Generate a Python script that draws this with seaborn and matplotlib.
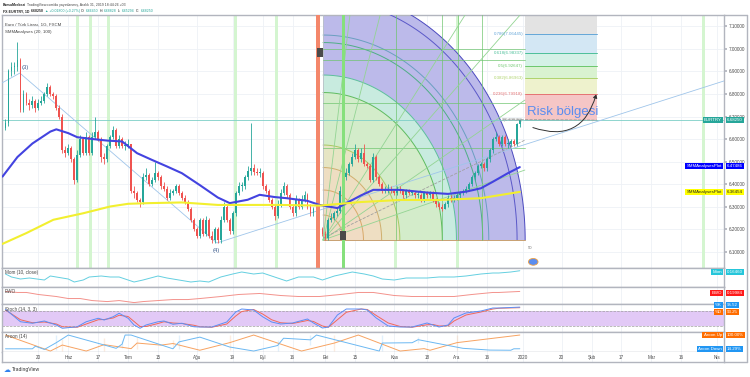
import numpy as np
import pandas as pd
import matplotlib
matplotlib.use("Agg")
import matplotlib.pyplot as plt
import seaborn as sns
from matplotlib.patches import Polygon, FancyArrowPatch, Rectangle, Ellipse

# EURTRY daily candles, 3 May 2019 .. 31 Dec 2019 (opens = previous close)
first_open = 6.65
closes = [6.67, 6.90, 6.92, 6.92, 6.95, 6.73, 6.80, 6.76, 6.75, 6.77,
          6.74, 6.76, 6.77, 6.80, 6.83, 6.80, 6.79, 6.74, 6.70, 6.55,
          6.54, 6.56, 6.51, 6.42, 6.53, 6.60, 6.54, 6.61, 6.54, 6.61,
          6.63, 6.60, 6.52, 6.51, 6.57, 6.61, 6.64, 6.57, 6.60, 6.57,
          6.57, 6.58, 6.37, 6.36, 6.33, 6.32, 6.43, 6.44, 6.40, 6.42,
          6.45, 6.43, 6.39, 6.38, 6.34, 6.36, 6.37, 6.39, 6.36, 6.34,
          6.32, 6.29, 6.24, 6.20, 6.17, 6.24, 6.18, 6.24, 6.17, 6.15,
          6.20, 6.15, 6.24, 6.30, 6.24, 6.19, 6.27, 6.36, 6.39, 6.39,
          6.43, 6.46, 6.47, 6.455, 6.45, 6.45, 6.39, 6.37, 6.33, 6.30,
          6.26, 6.31, 6.36, 6.39, 6.35, 6.30, 6.27, 6.33, 6.30, 6.33,
          6.35, 6.30, 6.27, 6.29, 6.24, 6.20, 6.18, 6.16, 6.24, 6.25,
          6.27, 6.28, 6.37, 6.43, 6.45, 6.49, 6.52, 6.55, 6.51, 6.54,
          6.49, 6.48, 6.42, 6.52, 6.43, 6.40, 6.37, 6.37, 6.38, 6.37,
          6.36, 6.38, 6.37, 6.35, 6.37, 6.36, 6.36, 6.35, 6.35, 6.33,
          6.36, 6.35, 6.36, 6.33, 6.31, 6.30, 6.29, 6.31, 6.34, 6.33,
          6.34, 6.35, 6.36, 6.37, 6.38, 6.40, 6.43, 6.45, 6.48, 6.49,
          6.47, 6.51, 6.55, 6.60, 6.61, 6.58, 6.61, 6.58, 6.58, 6.59,
          6.58, 6.6645, 6.6825]
highs = [6.69, 6.91, 6.94, 6.94, 7.03, 6.96, 6.82, 6.81, 6.78, 6.79,
         6.78, 6.78, 6.79, 6.81, 6.85, 6.84, 6.81, 6.80, 6.75, 6.71,
         6.57, 6.58, 6.57, 6.52, 6.55, 6.62, 6.61, 6.63, 6.62, 6.63,
         6.70, 6.64, 6.61, 6.54, 6.58, 6.62, 6.66, 6.65, 6.62, 6.61,
         6.59, 6.60, 6.58, 6.39, 6.37, 6.34, 6.45, 6.47, 6.45, 6.43,
         6.50, 6.46, 6.44, 6.41, 6.39, 6.38, 6.38, 6.40, 6.40, 6.37,
         6.35, 6.33, 6.30, 6.25, 6.21, 6.25, 6.25, 6.26, 6.25, 6.19,
         6.21, 6.21, 6.26, 6.32, 6.31, 6.25, 6.28, 6.37, 6.41, 6.41,
         6.44, 6.48, 6.67, 6.49, 6.47, 6.47, 6.46, 6.40, 6.38, 6.34,
         6.31, 6.33, 6.38, 6.41, 6.40, 6.36, 6.31, 6.35, 6.34, 6.35,
         6.37, 6.36, 6.31, 6.30, 6.30, 6.25, 6.21, 6.19, 6.25, 6.27,
         6.28, 6.30, 6.39, 6.45, 6.47, 6.50, 6.54, 6.58, 6.56, 6.56,
         6.58, 6.50, 6.49, 6.54, 6.53, 6.44, 6.41, 6.39, 6.40, 6.39,
         6.38, 6.39, 6.39, 6.38, 6.38, 6.38, 6.37, 6.37, 6.37, 6.36,
         6.37, 6.37, 6.37, 6.37, 6.34, 6.32, 6.31, 6.32, 6.35, 6.35,
         6.35, 6.36, 6.37, 6.38, 6.39, 6.41, 6.44, 6.46, 6.49, 6.50,
         6.50, 6.52, 6.56, 6.61, 6.63, 6.62, 6.62, 6.62, 6.60, 6.60,
         6.60, 6.67, 6.688]
lows = [6.64, 6.66, 6.88, 6.89, 6.90, 6.72, 6.72, 6.75, 6.73, 6.74,
        6.72, 6.73, 6.75, 6.76, 6.79, 6.79, 6.78, 6.73, 6.69, 6.54,
        6.52, 6.53, 6.50, 6.40, 6.41, 6.52, 6.53, 6.53, 6.53, 6.53,
        6.60, 6.59, 6.50, 6.49, 6.50, 6.56, 6.60, 6.56, 6.56, 6.56,
        6.55, 6.56, 6.36, 6.34, 6.32, 6.30, 6.31, 6.42, 6.39, 6.39,
        6.41, 6.42, 6.38, 6.37, 6.33, 6.33, 6.35, 6.36, 6.35, 6.33,
        6.31, 6.28, 6.23, 6.19, 6.16, 6.16, 6.17, 6.17, 6.16, 6.14,
        6.14, 6.14, 6.14, 6.23, 6.23, 6.18, 6.18, 6.26, 6.35, 6.37,
        6.38, 6.42, 6.44, 6.44, 6.44, 6.43, 6.38, 6.36, 6.32, 6.29,
        6.24, 6.25, 6.30, 6.35, 6.34, 6.29, 6.26, 6.26, 6.29, 6.29,
        6.32, 6.29, 6.26, 6.26, 6.23, 6.19, 6.17, 6.15, 6.15, 6.23,
        6.24, 6.26, 6.27, 6.36, 6.42, 6.44, 6.48, 6.51, 6.50, 6.50,
        6.48, 6.47, 6.41, 6.41, 6.42, 6.39, 6.36, 6.36, 6.36, 6.36,
        6.35, 6.35, 6.36, 6.34, 6.34, 6.35, 6.35, 6.34, 6.34, 6.32,
        6.32, 6.34, 6.34, 6.32, 6.30, 6.29, 6.28, 6.29, 6.30, 6.32,
        6.32, 6.33, 6.34, 6.35, 6.36, 6.37, 6.39, 6.42, 6.44, 6.47,
        6.46, 6.46, 6.50, 6.54, 6.59, 6.57, 6.57, 6.57, 6.56, 6.57,
        6.57, 6.57, 6.653]

# SMMAnalyses (20, 100) lines, bar index / value
sma20_x = [-1, 4, 9, 15, 17, 21, 24, 29, 34, 39, 44, 49, 54, 59, 65, 71, 75, 81, 85, 90,
           94, 101, 105, 111, 114, 119, 123, 132, 141, 148, 154, 159, 163, 168, 172]
sma20_y = [6.433, 6.52, 6.58, 6.633, 6.643, 6.626, 6.608, 6.60, 6.593, 6.589, 6.537, 6.507,
           6.478, 6.448, 6.395, 6.34, 6.315, 6.33, 6.352, 6.342, 6.337, 6.325, 6.307, 6.293,
           6.315, 6.35, 6.374, 6.374, 6.362, 6.356, 6.366, 6.381, 6.41, 6.448, 6.475]
sma100_x = [-1, 7, 16, 26, 35, 41, 48, 59, 71, 82, 92, 105, 119, 132, 145, 159, 172]
sma100_y = [6.134, 6.182, 6.241, 6.27, 6.30, 6.312, 6.315, 6.318, 6.307, 6.307, 6.307,
            6.304, 6.32, 6.329, 6.329, 6.337, 6.365]

# Mom (10, close)
mom_x = [0, 2, 5, 8, 13, 15, 21, 23, 26, 28, 32, 35, 38, 43, 46, 51, 54, 58, 62, 65, 68, 72, 76, 79,
         83, 86, 89, 94, 98, 103, 106, 110, 113, 116, 120, 123, 126, 130, 134, 141, 145, 150, 154,
         159, 163, 165, 169, 172]
mom_y = [0.10, 0.04, 0.00, 0.02, -0.02, 0.06, 0.00, -0.06, -0.02, 0.04, 0.06, 0.04, 0.04, -0.06,
         -0.02, 0.06, 0.02, -0.02, -0.06, -0.04, -0.06, 0.04, 0.10, 0.14, 0.10, 0.12, 0.06, -0.04,
         0.04, 0.04, -0.02, 0.06, 0.10, 0.14, 0.10, 0.06, 0.00, -0.02, 0.02, 0.02, 0.04, 0.04,
         0.06, 0.10, 0.12, 0.12, 0.14, 0.165]

# EWO
ewo_x = [0, 4, 7, 11, 14, 17, 21, 25, 29, 34, 38, 43, 46, 51, 56, 61, 65, 72, 78, 85, 92, 98,
         105, 112, 118, 123, 130, 136, 143, 150, 156, 163, 165, 172]
ewo_y = [0.20, 0.175, 0.175, 0.125, 0.10, 0.075, 0.025, 0.025, -0.025, -0.05, -0.025, -0.075,
         -0.05, -0.025, 0.0, 0.0, 0.025, 0.075, 0.125, 0.15, 0.10, 0.075, 0.075, 0.125, 0.175,
         0.175, 0.10, 0.075, 0.075, 0.075, 0.125, 0.175, 0.175, 0.20]

# Stoch (14, 3, 3)
stoch_x = [0, 5, 9, 13, 17, 19, 24, 27, 31, 33, 36, 38, 41, 43, 45, 47, 51, 53, 56, 59, 63, 65,
           69, 74, 77, 79, 83, 86, 89, 92, 96, 101, 103, 106, 108, 111, 114, 119, 121, 124, 128,
           132, 136, 141, 143, 145, 148, 150, 154, 159, 163, 165, 172]
stoch_k = [87, 37, 31, 40, 24, 11, 17, 37, 51, 44, 57, 71, 51, 24, 11, 24, 37, 40, 27, 31, 17, 16,
           16, 36, 76, 88, 84, 57, 36, 28, 32, 48, 32, 12, 16, 64, 88, 88, 84, 52, 20, 16, 16, 32,
           24, 16, 24, 52, 72, 80, 92, 92, 95.52]
stoch_d = [84, 45, 33, 36, 28, 17, 15, 28, 45, 46, 52, 63, 58, 38, 18, 18, 30, 37, 32, 30, 23, 17,
           15, 28, 60, 78, 86, 68, 45, 33, 30, 42, 38, 20, 15, 45, 75, 88, 86, 62, 32, 18, 15, 25,
           26, 20, 21, 40, 64, 76, 88, 91, 93.25]

# Aroon (14)
aroon_up_x = [0, 15, 19, 19, 27, 33, 33, 42, 44, 44, 52, 56, 56, 65, 75, 75, 83, 99, 110, 110,
              118, 132, 140, 142, 151, 151, 172]
aroon_up = [100, 0, 0, 75, 0, 0, 80, 15, 10, 90, 37, 25, 69, 5, 5, 100, 100, 0, 0, 100, 100, 0,
            15, 5, 5, 100, 100]
aroon_dn_x = [0, 9, 10, 13, 17, 17, 21, 37, 39, 39, 40, 42, 56, 58, 58, 65, 75, 83, 91, 91, 93,
              102, 102, 104, 125, 126, 126, 136, 138, 138, 153, 162, 169, 170, 172]
aroon_dn = [14, 14, 30, 10, 5, 100, 100, 17, 17, 69, 100, 100, 14, 14, 100, 87, 25, 0, 0, 69, 80,
            40, 100, 100, 0, 0, 100, 52, 52, 90, 17, 6, 5, 14, 14.29]

# Fibonacci retracement
fib_ratios = ["0", "0.236", "0.382", "0.5", "0.618", "0.786", "1"]
fib_prices = [6.68528, 6.79918, 6.86963, 6.92647, 6.98337, 7.06445, 7.16766]
fib_line_colors = ["#9e9e9e", "#e57373", "#aed36c", "#6cc76c", "#4cbf99", "#64a6d8", "#9e9e9e"]
fib_fill_colors = ["#f5c6c6", "#eef2cd", "#d9f2d0", "#d4f1e6", "#d3e7f4", "#e3e3e3"]

# time axis
tick_dates = ["2019-05-20", "2019-06-03", "2019-06-17", "2019-07-01", "2019-07-15", "2019-08-01",
              "2019-08-19", "2019-09-02", "2019-09-16", "2019-10-01", "2019-10-15", "2019-11-01",
              "2019-11-18", "2019-12-02", "2019-12-16", "2020-01-01", "2020-01-20", "2020-02-03",
              "2020-02-17", "2020-03-02", "2020-03-16", "2020-04-01"]
tick_labels = ["20", "Haz", "17", "Tem", "15", "Ağu", "19", "Eyl", "16", "Eki", "15", "Kas",
               "18", "Ara", "16", "2020", "20", "Şub", "17", "Mar", "16", "Nis"]
price_ticks = [6.1, 6.2, 6.3, 6.4, 6.5, 6.6, 6.7, 6.8, 6.9, 7.0, 7.1]

sns.set_theme(style="white")
plt.rcParams['font.family'] = ['Liberation Sans', 'DejaVu Sans']

W, H = 750, 377
fig = plt.figure(figsize=(7.5, 3.77), dpi=100)
fig.patch.set_facecolor("white")

X0, X1 = 2, 724
XL = (-1.17, 240.3)
YL = (6.0267, 7.1511)


def add_ax(y0, y1):
    return fig.add_axes([X0 / W, 1 - y1 / H, (X1 - X0) / W, (y1 - y0) / H])


def ftext(x, y, s, **kw):
    return fig.text(x / W, 1 - y / H, s, **kw)


days = pd.bdate_range("2019-05-03", "2020-04-30")
tick_x = [days.get_loc(pd.Timestamp(d)) for d in tick_dates]

ax = add_ax(15, 268)
ax_mom = add_ax(268, 287)
ax_ewo = add_ax(287, 304)
ax_sto = add_ax(304, 332)
ax_ar = add_ax(332, 352)
ax_t = add_ax(352, 362)

grid_c = "#eef1f6"
for a in [ax, ax_mom, ax_ewo, ax_sto, ax_ar, ax_t]:
    a.set_xlim(*XL)
    a.set_xticks([])
    a.set_yticks([])
    for tx in tick_x:
        a.axvline(tx, color=grid_c, lw=0.6, zorder=0)
    for s in a.spines.values():
        s.set_color("#b2b5be")
        s.set_linewidth(1.0)

# ---------------- main price panel ----------------
ax.set_ylim(*YL)
for p in price_ticks:
    ax.axhline(p, color=grid_c, lw=0.6, zorder=0)

# time-cycle stripes
for sx in [24.2, 28.3, 34.3, 76.8, 90.8, 130.6, 151.3, 233.3]:
    ax.axvspan(sx - 0.5, sx + 0.5, color="#d4f5d0", zorder=1, lw=0)

# Gann square arcs (centre = box bottom-left)
cx, cy = 106.2, 6.151
RX, RY = 67.6, 1.111
bands = [(0.0, 0.20, "#f0dcc4"), (0.20, 0.29, "#eedec2"), (0.29, 0.38, "#e6e5c4"),
         (0.38, 0.59, "#d3ecca"), (0.59, 0.66, "#c8ebdf"), (0.66, 1.00, "#bcbaea")]
t = np.linspace(0, np.pi / 2, 100)
for f0, f1, col in bands:
    ox, oy = cx + f1 * RX * np.cos(t), cy + f1 * RY * np.sin(t)
    ix, iy = cx + f0 * RX * np.cos(t[::-1]), cy + f0 * RY * np.sin(t[::-1])
    ax.add_patch(Polygon(np.column_stack([np.r_[ox, ix], np.r_[oy, iy]]), closed=True,
                         fc=col, ec="none", zorder=2))
arc_cols = {0.1: "#d8a868", 0.2: "#d8a868", 0.29: "#cfae6c", 0.38: "#a8c860",
            0.59: "#5dbb5d", 0.66: "#5cbf9c", 0.79: "#4fae86", 0.82: "#6a9fc0",
            0.96: "#5a58c8", 1.0: "#4b49bf"}
for f, col in arc_cols.items():
    ax.plot(cx + f * RX * np.cos(t), cy + f * RY * np.sin(t), color=col, lw=0.7, zorder=3)
ax.plot([cx, cx + RX], [cy, cy], color="#c8a070", lw=0.7, zorder=3)
ax.plot([cx, cx], [cy, YL[1]], color="#b9c0c8", lw=0.6, zorder=3)
for gx in [130.6, 146.0, 151.3, 159.4]:
    ax.plot([gx, gx], [cy, YL[1]], color="#6cc46c", lw=0.6, zorder=3, alpha=0.8)
for gy in [7.0, 6.951, 6.760, 6.560]:
    ax.plot([cx, cx + RX], [gy, gy], color="#6cc46c", lw=0.6, zorder=3, alpha=0.8)
# fan lines
for ex, ey in [(153.7, YL[1]), (172.1, YL[1]), (173.7, 6.773), (173.7, 6.462),
               (125.3, YL[1]), (115.2, YL[1])]:
    ax.plot([cx, ex], [cy, ey], color="#93d493", lw=0.6, zorder=3)

# orange and green marker lines
ax.axvspan(103.8, 105.2, color="#f4876b", zorder=6, lw=0)
ax.axvspan(112.4, 113.6, color="#86e07c", zorder=6, lw=0)

# fib retracement zone
fx0, fx1 = 173.7, 197.8
for i, col in enumerate(fib_fill_colors):
    ax.add_patch(Rectangle((fx0, fib_prices[i]), fx1 - fx0, fib_prices[i + 1] - fib_prices[i],
                           fc=col, ec="none", zorder=2))
for r, p, col in zip(fib_ratios, fib_prices, fib_line_colors):
    ax.plot([fx0, fx1], [p, p], color=col, lw=0.7, zorder=3)
    if r != "1":
        ax.text(fx0 - 0.6, p, f"{r}({p:.5f})", color=col, fontsize=3.2, ha="right",
                va="center", zorder=8)

# last price line and trend lines
ax.axhline(closes[-1], color="#7ccfc6", lw=0.6, zorder=4)
ax.plot([-1.2, 4.8, 70.7, 240.3], [6.849, 6.893, 6.138, 6.858], color="#9fc5ea", lw=0.6, zorder=4)
ax.plot([106.2, 173.7], [6.16, 6.595], color="#a0a0a0", lw=0.6, ls="--", zorder=4)
ax.plot([166.4, 197.8], [6.688, 6.684], color="#a0a0a0", lw=0.6, ls="--", zorder=4)

# candles
x = np.arange(len(closes))
opens = [first_open] + closes[:-1]
colors = ["#26a69a" if c >= o else "#ef5350" for o, c in zip(opens, closes)]
ax.vlines(x, lows, highs, colors=colors, lw=0.6, zorder=5)
body = [max(abs(c - o), 0.004) for o, c in zip(opens, closes)]
ax.bar(x, body, bottom=np.minimum(opens, closes), width=0.62, color=colors, zorder=5, lw=0)

# SMAs
sns.lineplot(x=sma20_x, y=sma20_y, ax=ax, color="#4343e0", lw=1.5, zorder=6, sort=False)
sns.lineplot(x=sma100_x, y=sma100_y, ax=ax, color="#f2ef2f", lw=1.5, zorder=6, sort=False)

ax.text(5.3, 6.912, "(3)", fontsize=4.2, color="#3b5b8c", ha="left", zorder=8)
ax.text(70.4, 6.10, "(4)", fontsize=4.2, color="#3b5b8c", ha="center", zorder=8)

# "Risk bölgesi" and arrow
ax.text(174.3, 6.72, "Risk bölgesi", fontsize=9.5, color="#5b8def", ha="left", va="center",
        zorder=9)
ax.add_patch(FancyArrowPatch((175.5, 6.655), (197.8, 6.81), connectionstyle="arc3,rad=0.55",
                             arrowstyle="-|>,head_length=2,head_width=1.2", color="#333333",
                             lw=0.7, zorder=9))

# badges
for bx, by in [(105.2, 6.985), (112.9, 6.17)]:
    ax.add_patch(Rectangle((bx - 1.1, by - 0.02), 2.2, 0.04, fc="#4a4a4a", ec="none", zorder=9))
ax.text(174.8, 6.11, "50", fontsize=3.0, color="#777777", zorder=9)
ax.add_patch(Ellipse((176.5, 6.054), 3.2, 0.03, fc="#5b8def", ec="#f0a040", lw=0.6, zorder=9))

# price axis (right)
ax.yaxis.tick_right()
ax.set_yticks(price_ticks)
ax.set_yticklabels([f"{p:.5f}" for p in price_ticks])
ax.tick_params(axis="y", labelsize=3.3, labelcolor="#4a4a4a", length=2, color="#b2b5be", pad=1.5)

ax.text(0.004, 0.97, "Euro / Türk Lirası, 1G, FXCM", transform=ax.transAxes, fontsize=3.2,
        color="#444444", va="top")
ax.text(0.004, 0.94, "SMMAnalyses (20, 100)", transform=ax.transAxes, fontsize=3.2,
        color="#444444", va="top")

# ---------------- Mom ----------------
ax_mom.set_ylim(-0.16, 0.22)
sns.lineplot(x=mom_x, y=mom_y, ax=ax_mom, color="#64cfe0", lw=0.7)
ax_mom.text(0.004, 0.75, "Mom (10, close)", transform=ax_mom.transAxes, fontsize=3.3,
            color="#444444", va="center")

# ---------------- EWO ----------------
ax_ewo.set_ylim(-0.11, 0.31)
sns.lineplot(x=ewo_x, y=ewo_y, ax=ax_ewo, color="#f3928c", lw=0.7)
ax_ewo.text(0.004, 0.72, "EWO", transform=ax_ewo.transAxes, fontsize=3.3, color="#444444",
            va="center")

# ---------------- Stoch ----------------
ax_sto.set_ylim(-4, 108)
ax_sto.axhspan(20, 80, color="#e2c9f6", zorder=1, lw=0)
ax_sto.axhline(80, color="#a0a0a0", lw=0.5, ls="--", zorder=2)
ax_sto.axhline(20, color="#a0a0a0", lw=0.5, ls="--", zorder=2)
sns.lineplot(x=stoch_x, y=stoch_d, ax=ax_sto, color="#f0685a", lw=0.7, zorder=3)
sns.lineplot(x=stoch_x, y=stoch_k, ax=ax_sto, color="#5b8ff5", lw=0.7, zorder=4)
ax_sto.text(0.004, 0.82, "Stoch (14, 3, 3)", transform=ax_sto.transAxes, fontsize=3.3,
            color="#444444", va="center", zorder=5)

# ---------------- Aroon ----------------
ax_ar.set_ylim(-6, 119)
sns.lineplot(x=aroon_up_x, y=aroon_up, ax=ax_ar, color="#f7a362", lw=0.7, sort=False)
sns.lineplot(x=aroon_dn_x, y=aroon_dn, ax=ax_ar, color="#6cb8f2", lw=0.7, sort=False)
ax_ar.text(0.004, 0.78, "Aroon (14)", transform=ax_ar.transAxes, fontsize=3.3,
           color="#444444", va="center")

# ---------------- time axis ----------------
ax_t.set_ylim(0, 1)
ax_t.spines["top"].set_visible(False)
for tx, tl in zip(tick_x, tick_labels):
    ax_t.text(tx, 0.45, tl, fontsize=3.3, color="#4a4a4a", ha="center", va="center")

for a in [ax, ax_mom, ax_ewo, ax_sto, ax_ar, ax_t]:
    a.set_xlabel("")
    a.set_ylabel("")

# right axis frame
fig.add_artist(plt.Line2D([747 / W, 747 / W], [1 - 362 / H, 1 - 15 / H], color="#b2b5be", lw=1.0))
fig.add_artist(plt.Line2D([X1 / W, 747 / W], [1 - 15 / H, 1 - 15 / H], color="#b2b5be", lw=1.0))
fig.add_artist(plt.Line2D([X1 / W, 747 / W], [1 - 362 / H, 1 - 362 / H], color="#b2b5be", lw=1.0))


def tag(y, name, value, bg, fg="white"):
    bb = dict(boxstyle="square,pad=0.3", fc=bg, ec="none")
    if name:
        ftext(722, y, name, ha="right", va="center", fontsize=3.2, color=fg, bbox=bb)
    ftext(727, y, value, ha="left", va="center", fontsize=3.2, color=fg, bbox=bb)


tag(120, "EURTRY", "6.68250", "#26a69a")
tag(166, "SMMAnalysesPlot", "6.47486", "#0000ff")
tag(192, "SMMAnalysesPlot", "6.36454", "#ffff00", fg="#222222")
tag(272, "Mom", "0.16460", "#26c6da")
tag(293, "EWO", "0.19984", "#ff1a1a")
tag(305, "%K", "95.52", "#2196f3")
tag(312, "%D", "93.25", "#ff6d00")
tag(335, "Aroon Up", "100.00%", "#ff6d00")
tag(349, "Aroon Down", "14.29%", "#2196f3")

# header, laid out piece by piece so the runs never overlap
renderer = fig.canvas.get_renderer()


def text_run(x, y, parts, size=2.5, gap=1.2):
    for s, col, wt in parts:
        tt = ftext(x, y, s, fontsize=size, color=col, fontweight=wt, va="center")
        x += tt.get_window_extent(renderer=renderer).width + gap


teal = "#26a69a"
text_run(3, 5, [("BorsaMerkezi", "#222222", "bold"),
                ("TradingView.com'da yayınlanmış, Aralık 31, 2019 18:44:26 +03", "#444444",
                 "normal")])
text_run(3, 11, [("FX:EURTRY, 1D", "#222222", "bold"), ("6.68250", "#222222", "bold"),
                 ("▲ +0.01800 (+0.27%)", teal, "normal"),
                 ("O:", "#222222", "normal"), ("6.66450", teal, "normal"),
                 ("H:", "#222222", "normal"), ("6.68828", teal, "normal"),
                 ("L:", "#222222", "normal"), ("6.65294", teal, "normal"),
                 ("C:", "#222222", "normal"), ("6.68250", teal, "normal")])

# footer logo
ftext(4, 370, "☁", fontsize=5, color="#2f80ed", va="center")
ftext(12, 370, "TradingView", fontsize=3.6, color="#333333", va="center")

fig.savefig("out.png", dpi=100, facecolor="white")
